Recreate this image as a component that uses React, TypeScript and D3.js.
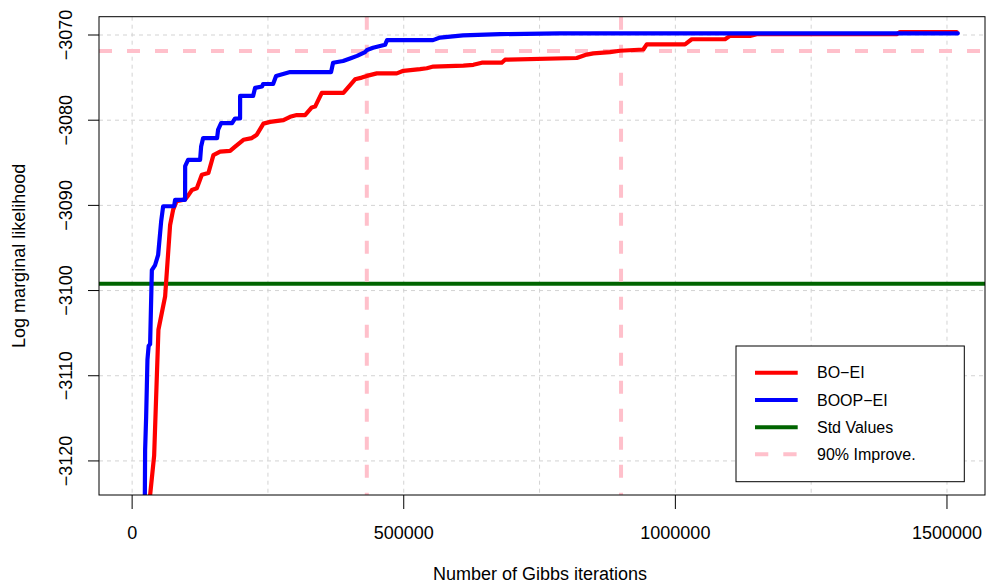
import React from "react";
import * as d3 from "d3";

const boX = [30400, 40500, 48400, 60700, 69900, 75500, 81900, 97500, 103600, 109900, 119100, 128300, 140400, 149600, 161900, 180400, 189600, 204900, 220300, 229500, 241700, 254000, 278500, 290800, 303100, 318400, 330700, 336800, 349100, 388900, 410400, 422800, 432000, 450400, 487200, 499300, 530000, 542400, 554500, 609800, 628200, 643600, 680400, 686500, 818500, 836800, 849000, 879700, 898100, 941000, 947300, 1017800, 1030100, 1091400, 1100600, 1137400, 1149700, 1407400, 1413500, 1517800];
const boY = [-3125.7, -3119.4, -3104.6, -3100.7, -3092.3, -3090.5, -3089.5, -3089.3, -3088.8, -3088.2, -3088.0, -3086.4, -3086.2, -3084.1, -3083.7, -3083.6, -3083.1, -3082.3, -3082.1, -3081.7, -3080.4, -3080.2, -3080.0, -3079.6, -3079.4, -3079.4, -3078.5, -3078.4, -3076.8, -3076.8, -3075.2, -3075.0, -3074.8, -3074.5, -3074.5, -3074.2, -3074.0, -3073.9, -3073.7, -3073.6, -3073.5, -3073.25, -3073.25, -3072.9, -3072.7, -3072.3, -3072.15, -3072.0, -3071.85, -3071.7, -3071.1, -3071.1, -3070.5, -3070.5, -3070.1, -3070.1, -3069.9, -3069.9, -3069.65, -3069.65];

const boopX = [23000, 23900, 25800, 27100, 28200, 30400, 33100, 36300, 42300, 47900, 53400, 57100, 77300, 79100, 97500, 97600, 103000, 125100, 127000, 130700, 156400, 158300, 163800, 184000, 189500, 198700, 198800, 222700, 226400, 239200, 241100, 259500, 265000, 290800, 366200, 369900, 388300, 401200, 414100, 428800, 432500, 443500, 465600, 469300, 553900, 566800, 609100, 677200, 787600, 1520000];
const boopY = [-3128, -3118.7, -3114.8, -3111.2, -3108.1, -3106.5, -3106.3, -3097.6, -3097.0, -3095.8, -3091.9, -3090.1, -3090.1, -3089.35, -3089.35, -3085.4, -3084.65, -3084.65, -3083.1, -3082.1, -3082.1, -3081.1, -3080.35, -3080.35, -3079.8, -3079.8, -3077.15, -3077.15, -3076.2, -3076.05, -3075.75, -3075.75, -3074.8, -3074.35, -3074.35, -3073.25, -3073.05, -3072.75, -3072.45, -3072.0, -3071.75, -3071.5, -3071.15, -3070.6, -3070.6, -3070.3, -3070.05, -3069.9, -3069.8, -3069.8];

const stdValue = -3099.2;
const improveY = -3071.88;
const improveX = [432000, 900000];

const xTicks = [0, 500000, 1000000, 1500000];
const xGrid = [0, 250000, 500000, 750000, 1000000, 1250000, 1500000];
const yTicks = [-3070, -3080, -3090, -3100, -3110, -3120];

const legendLabels = ["BO\u2212EI", "BOOP\u2212EI", "Std Values", "90% Improve."];
const legendColors = ["#FF0000", "#0000FF", "#006400", "#FFC0CB"];

const W = 988, H = 584;
const L = 99, R = 985, T = 16.7, B = 495;
const FONT = "'Liberation Sans', Arial, Helvetica, sans-serif";

export default function App() {
  const x = d3.scaleLinear().domain([-61000, 1570000]).range([L, R]);
  const y = d3.scaleLinear().domain([-3124, -3067.85]).range([B, T]);
  const line = d3.line<[number, number]>().x(d => x(d[0])).y(d => y(d[1]));
  const boPts = boX.map((v, i) => [v, boY[i]] as [number, number]);
  const boopPts = boopX.map((v, i) => [v, boopY[i]] as [number, number]);
  const fmtY = (v: number) => (v < 0 ? "\u2212" + Math.abs(v) : String(v));

  const legRows = [372.7, 400, 427.3, 454.3];

  return (
    <div style={{ position: "absolute", left: 0, top: 0 }}>
      <svg width={W} height={H} style={{ display: "block", background: "#fff" }} fontFamily={FONT}>
        <defs>
          <clipPath id="plotclip">
            <rect x={L} y={T} width={R - L} height={B - T} />
          </clipPath>
        </defs>
        {/* grid */}
        <g stroke="#D3D3D3" strokeWidth={1} strokeDasharray="4,4">
          {xGrid.map(v => (
            <line key={"gx" + v} x1={x(v)} x2={x(v)} y1={T} y2={B} />
          ))}
          {yTicks.map(v => (
            <line key={"gy" + v} x1={L} x2={R} y1={y(v)} y2={y(v)} />
          ))}
        </g>
        <g clipPath="url(#plotclip)">
          {/* std values */}
          <line x1={L} x2={R} y1={y(stdValue)} y2={y(stdValue)} stroke="#006400" strokeWidth={4} />
          {/* 90% improve */}
          <g stroke="#FFC0CB" strokeWidth={4} strokeDasharray="13,15">
            <line x1={L} x2={R} y1={y(improveY)} y2={y(improveY)} />
            {improveX.map(v => (
              <line key={"iv" + v} x1={x(v)} x2={x(v)} y1={T} y2={B} />
            ))}
          </g>
          <path d={line(boPts) || ""} fill="none" stroke="#FF0000" strokeWidth={4.2} strokeLinejoin="round" strokeLinecap="round" />
          <path d={line(boopPts) || ""} fill="none" stroke="#0000FF" strokeWidth={4.2} strokeLinejoin="round" strokeLinecap="round" />
        </g>
        {/* box */}
        <rect x={L} y={T} width={R - L} height={B - T} fill="none" stroke="#000" strokeWidth={1} />
        {/* x axis */}
        <g>
          {xTicks.map(v => (
            <g key={"xt" + v}>
              <line x1={x(v)} x2={x(v)} y1={B} y2={B + 14} stroke="#000" />
              <text x={x(v)} y={538.5} textAnchor="middle" fontSize={18}>{String(v)}</text>
            </g>
          ))}
          <text x={(L + R) / 2 - 2} y={579.5} textAnchor="middle" fontSize={18}>Number of Gibbs iterations</text>
        </g>
        {/* y axis */}
        <g>
          {yTicks.map(v => (
            <g key={"yt" + v}>
              <line x1={L - 11} x2={L} y1={y(v)} y2={y(v)} stroke="#000" />
              <text transform={`translate(71.7,${y(v)}) rotate(-90)`} textAnchor="middle" fontSize={18}>{fmtY(v)}</text>
            </g>
          ))}
          <text transform={`translate(25,${(T + B) / 2}) rotate(-90)`} textAnchor="middle" fontSize={18}>Log marginal likelihood</text>
        </g>
        {/* legend */}
        <g>
          <rect x={736} y={346} width={228.3} height={135.7} fill="#fff" stroke="#000" strokeWidth={1} />
          {legendLabels.map((lab, i) => (
            <g key={lab}>
              <line x1={755} x2={797.7} y1={legRows[i]} y2={legRows[i]} stroke={legendColors[i]} strokeWidth={4}
                strokeDasharray={i === 3 ? "13.3,15" : undefined} />
              <text x={817} y={legRows[i]} dy="0.36em" fontSize={16}>{lab}</text>
            </g>
          ))}
        </g>
      </svg>
    </div>
  );
}
